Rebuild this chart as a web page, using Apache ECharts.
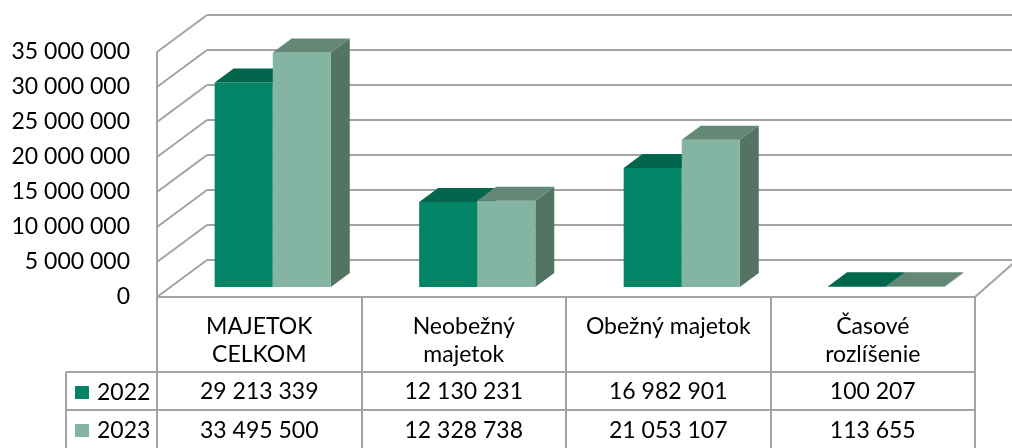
<!DOCTYPE html>
<html>
<head>
<meta charset="utf-8">
<script src="https://cdn.jsdelivr.net/npm/echarts@6/dist/echarts.min.js"></script>
<style>
  html, body { margin: 0; padding: 0; background: #fff; }
  #chart { width: 1012px; height: 448px; }
</style>
</head>
<body>
<div id="chart"></div>
<script>
// data
const categories = ['MAJETOK\nCELKOM', 'Neobežný\nmajetok', 'Obežný majetok', 'Časové\nrozlíšenie']
const years = ['2022', '2023']
const values2022 = [29213339, 12130231, 16982901, 100207]
const values2023 = [33495500, 12328738, 21053107, 113655]
const yTicks = [0, 5000000, 10000000, 15000000, 20000000, 25000000, 30000000, 35000000]

// look of the 3D box
const FONT = 'Lato, "Noto Sans", sans-serif'
const GRID_COLOR = '#a3a3a3'
const DX = 50, DY = -37          // depth vector of the walls
const DXR = 42                   // right floor edge leans a bit less
const F1 = 10 / 37, F2 = 24 / 37 // bar front / back depth
const BAR_W = 0.284              // share of category band per bar
const faces = {
  '2022': { front: '#038467', top: '#02664d', side: '#025a44' },
  '2023': { front: '#84b5a3', top: '#638878', side: '#537363' }
}

const fmt = n => String(n).replace(/\B(?=(\d{3})+(?!\d))/g, ' ')

function renderWalls(params, api) {
  const cs = params.coordSys
  const x0 = cs.x, x1 = cs.x + cs.width
  const y = api.coord([0, api.value(1)])[1]
  const ls = { stroke: GRID_COLOR, lineWidth: 2 }
  const kids = [
    { type: 'line', shape: { x1: x0, y1: y, x2: x0 + DX, y2: y + DY }, style: ls },
    { type: 'line', shape: { x1: x0 + DX, y1: y + DY, x2: x1 + DX + 40, y2: y + DY }, style: ls }
  ]
  if (params.dataIndex === 0) {
    const yTop = api.coord([0, yTicks[yTicks.length - 1]])[1]
    const bottom = api.getHeight()
    kids.push(
      { type: 'line', shape: { x1: x0, y1: y, x2: x0, y2: yTop }, style: ls },
      { type: 'line', shape: { x1: x0, y1: y, x2: x1, y2: y }, style: ls },
      { type: 'line', shape: { x1: x1, y1: y, x2: x1 + DXR, y2: y + DY }, style: ls },
      // table rows
      { type: 'line', shape: { x1: x0 - 91, y1: y + 75, x2: x1, y2: y + 75 }, style: ls },
      { type: 'line', shape: { x1: x0 - 91, y1: y + 113, x2: x1, y2: y + 113 }, style: ls },
      { type: 'line', shape: { x1: x0 - 91, y1: y + 75, x2: x0 - 91, y2: bottom }, style: ls }
    )
  }
  return { type: 'group', children: kids }
}

function makeBarRenderer(year, idx, rowOffset) {
  const c = faces[year]
  return function (params, api) {
    const i = api.value(0), v = api.value(1)
    const base = api.coord([i, 0])
    const top = api.coord([i, v])
    const band = api.size([1, 0])[0]
    const w = band * BAR_W
    const L = base[0] - w + idx * w, R = L + w
    const sx1 = DX * F1, sy1 = DY * F1, sx2 = DX * F2, sy2 = DY * F2
    const T = top[1], B = base[1]
    return {
      type: 'group',
      children: [
        { type: 'polygon', shape: { points: [[R + sx1, T + sy1], [R + sx2, T + sy2], [R + sx2, B + sy2], [R + sx1, B + sy1]] }, style: { fill: c.side } },
        { type: 'rect', shape: { x: L + sx1, y: T + sy1, width: w, height: B - T }, style: { fill: c.front } },
        { type: 'polygon', shape: { points: [[L + sx1, T + sy1], [R + sx1, T + sy1], [R + sx2, T + sy2], [L + sx2, T + sy2]] }, style: { fill: c.top } },
        { type: 'text', style: { x: base[0], y: B + rowOffset, text: fmt(v), fill: '#000', fontSize: 23, fontFamily: FONT, align: 'center', verticalAlign: 'middle' } }
      ]
    }
  }
}

const chart = echarts.init(document.getElementById('chart'))
chart.setOption({
  animation: false,
  textStyle: { fontFamily: FONT },
  legend: {
    data: years,
    orient: 'vertical',
    left: 75,
    top: 381,
    height: 90,
    padding: 0,
    itemWidth: 14,
    itemHeight: 13,
    itemGap: 15,
    icon: 'rect',
    selectedMode: false,
    textStyle: { fontSize: 23, color: '#000', fontFamily: FONT, padding: [0, 0, 0, 3] }
  },
  grid: { left: 157, right: 37, top: 52, bottom: 151 },
  xAxis: {
    type: 'category',
    data: categories,
    axisLine: { show: false },
    axisTick: { show: true, length: 151, interval: 0, lineStyle: { color: GRID_COLOR, width: 2 } },
    axisLabel: { fontSize: 23, lineHeight: 28, margin: 16, color: '#000', interval: 0, fontFamily: FONT }
  },
  yAxis: {
    type: 'value',
    min: 0,
    max: 35000000,
    interval: 5000000,
    axisLine: { show: false },
    axisTick: { show: false },
    splitLine: { show: false },
    axisLabel: { fontSize: 23, color: '#000', margin: 27, fontFamily: FONT, formatter: fmt }
  },
  series: [
    {
      name: 'walls',
      type: 'custom',
      z: 1,
      silent: true,
      renderItem: renderWalls,
      data: yTicks.map(t => [0, t])
    },
    {
      name: '2022',
      type: 'custom',
      z: 2,
      itemStyle: { color: faces['2022'].front },
      renderItem: makeBarRenderer('2022', 0, 95),
      data: values2022.map((v, i) => [i, v])
    },
    {
      name: '2023',
      type: 'custom',
      z: 3,
      itemStyle: { color: faces['2023'].front },
      renderItem: makeBarRenderer('2023', 1, 134),
      data: values2023.map((v, i) => [i, v])
    }
  ]
})
</script>
</body>
</html>
